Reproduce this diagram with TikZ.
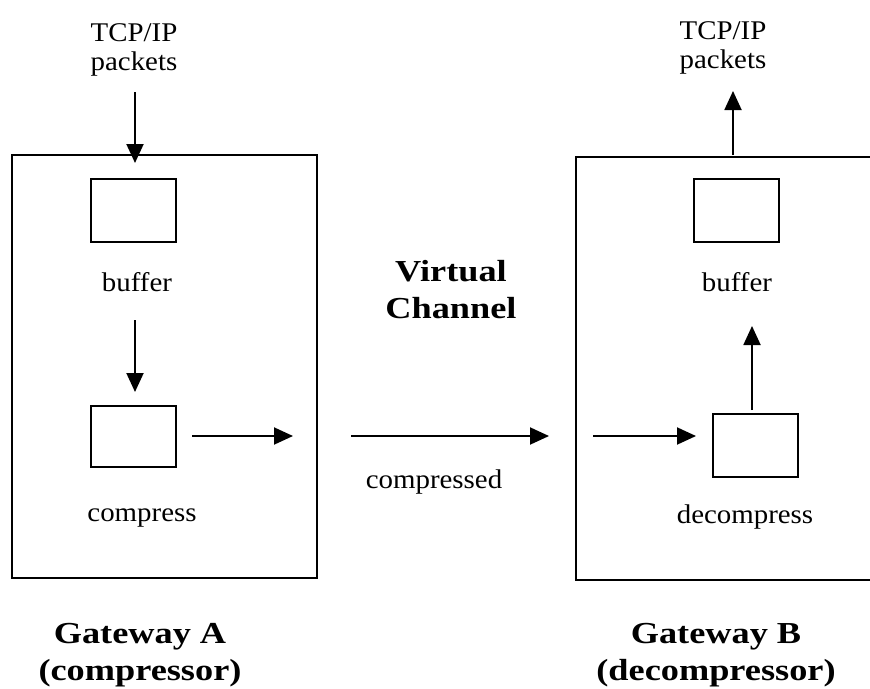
\documentclass[tikz,border=0pt]{standalone}
\usepackage{fontspec}
\setmainfont{Liberation Serif}
\newfontfamily\regwide[FakeStretch=1.07]{Liberation Serif}
\newfontfamily\boldwide[FakeStretch=1.19]{Liberation Serif Bold}
\usetikzlibrary{arrows.meta}
\begin{document}
\begin{tikzpicture}[x=1pt,y=-1pt,
  bigbox/.style={draw, line width=1.6pt, inner sep=0pt},
  smallbox/.style={draw, line width=1.4pt, inner sep=0pt, minimum width=85pt},
  lbl/.style={font=\regwide\fontsize{27}{29}\selectfont, align=center, inner sep=0pt},
  blbl/.style={font=\boldwide\fontsize{30.5}{37}\selectfont, align=center, inner sep=0pt},
  arr/.style={line width=1.9pt, -{Triangle[length=19pt,width=17pt]}}]
\useasboundingbox (0,0) rectangle (870,688);
% gateways
\node[bigbox, minimum width=305pt, minimum height=423pt] (gwA) at (164.5,366.5) {};
\node[bigbox, minimum width=298pt, minimum height=423pt] (gwB) at (725,368.5) {};
% small boxes
\node[smallbox, minimum height=63pt] (bufA) at (133.5,210.5) {};
\node[smallbox, minimum height=61pt] (compA) at (133.5,436.5) {};
\node[smallbox, minimum height=63pt] (bufB) at (736.5,210.5) {};
\node[smallbox, minimum height=63pt] (decB) at (755.5,445.5) {};
% labels
\node[lbl] (tcpA) at (134,50) {TCP/IP\\packets};
\node[lbl] (tcpB) at (723,48) {TCP/IP\\packets};
\node[lbl] (labbufA) at (137,282) {buffer};
\node[lbl] (labcompA) at (142,518) {compress};
\node[lbl] (labbufB) at (737,282) {buffer};
\node[lbl] (labdecB) at (745,517) {decompress};
\node[lbl] (labcmp) at (434,482) {compressed};
\node[blbl] (vc) at (451,290) {Virtual\\Channel};
\node[blbl] (gA) at (140,655) {Gateway A\\(compressor)};
\node[blbl] (gB) at (716,655) {Gateway B\\(decompressor)};
% arrow ends
\coordinate (inA) at (135,92);
\coordinate (inAend) at (135,163);
\coordinate (mA1) at (135,320);
\coordinate (mA2) at (135,392);
\coordinate (oA1) at (192,436);
\coordinate (oA2) at (293,436);
\coordinate (ch1) at (351,436);
\coordinate (ch2) at (549,436);
\coordinate (iB1) at (593,436);
\coordinate (iB2) at (696,436);
\coordinate (uB1) at (752,410);
\coordinate (uB2) at (752,326);
\coordinate (oB1) at (733,155);
\coordinate (oB2) at (733,91);
% arrows
\draw[arr] (inA) -- (inAend);
\draw[arr] (mA1) -- (mA2);
\draw[arr] (oA1) -- (oA2);
\draw[arr] (ch1) -- (ch2);
\draw[arr] (iB1) -- (iB2);
\draw[arr] (uB1) -- (uB2);
\draw[arr] (oB1) -- (oB2);
\end{tikzpicture}
\end{document}
